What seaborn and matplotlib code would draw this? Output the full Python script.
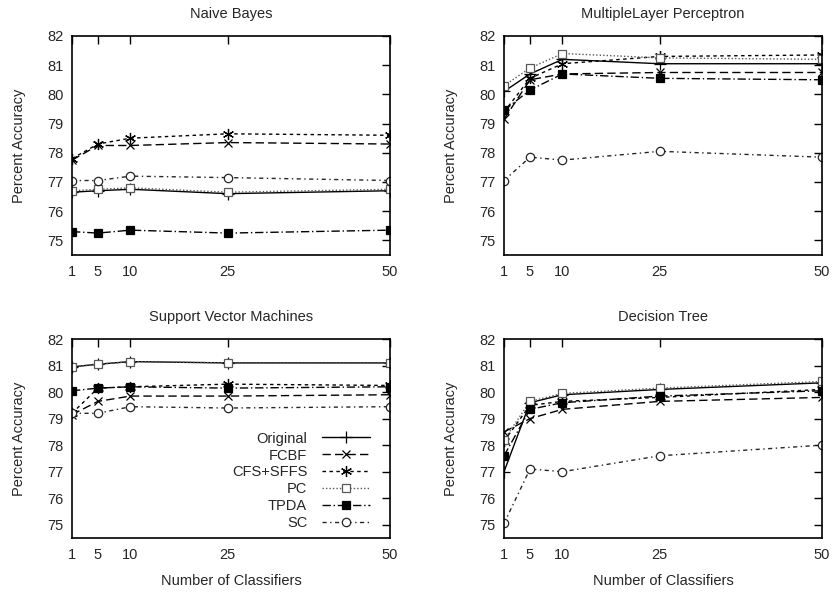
import numpy as np
import pandas as pd
import seaborn as sns
import matplotlib
matplotlib.use("Agg")
import matplotlib.pyplot as plt

# nombre de classifieurs (axe x)
n_classifiers = [1, 5, 10, 25, 50]

methods = ["Original", "FCBF", "CFS+SFFS", "PC", "TPDA", "SC"]

# Naive Bayes
nb_original = [76.65, 76.70, 76.75, 76.60, 76.70]
nb_fcbf = [77.75, 78.25, 78.25, 78.35, 78.30]
nb_cfs = [77.80, 78.30, 78.50, 78.65, 78.60]
nb_pc = [76.70, 76.75, 76.80, 76.65, 76.75]
nb_tpda = [75.30, 75.25, 75.35, 75.25, 75.35]
nb_sc = [77.05, 77.05, 77.20, 77.15, 77.05]

# MultipleLayer Perceptron
mlp_original = [80.10, 80.70, 81.20, 81.05, 81.05]
mlp_fcbf = [79.15, 80.50, 80.70, 80.75, 80.75]
mlp_cfs = [79.40, 80.55, 81.05, 81.30, 81.35]
mlp_pc = [80.30, 80.90, 81.40, 81.25, 81.20]
mlp_tpda = [79.45, 80.15, 80.70, 80.55, 80.50]
mlp_sc = [77.05, 77.85, 77.75, 78.05, 77.85]

# Support Vector Machines
svm_original = [80.95, 81.05, 81.15, 81.10, 81.10]
svm_fcbf = [79.15, 79.65, 79.85, 79.85, 79.90]
svm_cfs = [79.20, 80.15, 80.20, 80.30, 80.25]
svm_pc = [80.95, 81.05, 81.15, 81.10, 81.10]
svm_tpda = [80.05, 80.15, 80.20, 80.15, 80.20]
svm_sc = [79.20, 79.20, 79.45, 79.40, 79.45]

# Decision Tree
dt_original = [77.00, 79.60, 79.90, 80.10, 80.35]
dt_fcbf = [78.50, 79.00, 79.35, 79.65, 79.80]
dt_cfs = [78.15, 79.50, 79.65, 79.80, 80.10]
dt_pc = [78.20, 79.65, 79.95, 80.15, 80.40]
dt_tpda = [77.60, 79.35, 79.60, 79.85, 80.05]
dt_sc = [75.05, 77.10, 77.00, 77.60, 78.00]

panels = [
    ("Naive Bayes", [nb_original, nb_fcbf, nb_cfs, nb_pc, nb_tpda, nb_sc]),
    ("MultipleLayer Perceptron", [mlp_original, mlp_fcbf, mlp_cfs, mlp_pc, mlp_tpda, mlp_sc]),
    ("Support Vector Machines", [svm_original, svm_fcbf, svm_cfs, svm_pc, svm_tpda, svm_sc]),
    ("Decision Tree", [dt_original, dt_fcbf, dt_cfs, dt_pc, dt_tpda, dt_sc]),
]

# style gnuplot monochrome
asterisk = (6, 2, 0)
styles = {
    "Original": dict(color="black", dashes=None, marker="+", mfc="black", ms=8),
    "FCBF": dict(color="black", dashes=(6, 3), marker="x", mfc="black", ms=6),
    "CFS+SFFS": dict(color="black", dashes=(2.5, 2.5), marker=asterisk, mfc="black", ms=8),
    "PC": dict(color="0.35", dashes=(1, 1.5), marker="s", mfc="white", ms=6),
    "TPDA": dict(color="black", dashes=(6, 2, 1, 2), marker="s", mfc="black", ms=6),
    "SC": dict(color="0.15", dashes=(3, 2.5, 1, 2.5), marker="o", mfc="white", ms=6),
}

sns.set_style("white")
plt.rcParams["font.family"] = ["Liberation Sans", "DejaVu Sans"]
plt.rcParams["font.size"] = 10.5

fig = plt.figure(figsize=(8.36, 5.92), dpi=100)
positions = [
    [0.0861, 0.5693, 0.3804, 0.3699],
    [0.6029, 0.5693, 0.3804, 0.3699],
    [0.0861, 0.0912, 0.3804, 0.3361],
    [0.6029, 0.0912, 0.3804, 0.3361],
]

for i, (title, series) in enumerate(panels):
    ax = fig.add_axes(positions[i])
    for name, vals in zip(methods, series):
        st = styles[name]
        sns.lineplot(x=n_classifiers, y=vals, ax=ax, color=st["color"],
                     marker=st["marker"], markersize=st["ms"],
                     markerfacecolor=st["mfc"], markeredgecolor=st["color"],
                     markeredgewidth=0.9, linewidth=1.0, label=name,
                     legend=False)
        if st["dashes"] is not None:
            ax.lines[-1].set_dashes(st["dashes"])
    ax.set_xlim(1, 50)
    ax.set_ylim(74.5, 82)
    ax.set_xticks(n_classifiers)
    ax.set_yticks(range(75, 83))
    ax.tick_params(direction="in", length=6, width=1, top=True, right=True,
                   labelsize=10.5, color="black")
    ax.tick_params(axis="x", pad=7)
    ax.tick_params(axis="y", pad=6)
    for sp in ax.spines.values():
        sp.set_color("black")
        sp.set_linewidth(1.2)
    ax.set_title(title, fontsize=10.5, pad=13)
    ax.set_ylabel("Percent Accuracy", fontsize=10.5, labelpad=15)
    if i >= 2:
        ax.set_xlabel("Number of Classifiers", fontsize=10.5, labelpad=9)
    if i == 2:
        ax.legend(loc="lower right", bbox_to_anchor=(0.955, 0.01), frameon=False,
                  markerfirst=False, handlelength=3.3, handletextpad=1.0,
                  labelspacing=0.2, borderaxespad=0, fontsize=10.5)

plt.savefig("out.png", dpi=100)
